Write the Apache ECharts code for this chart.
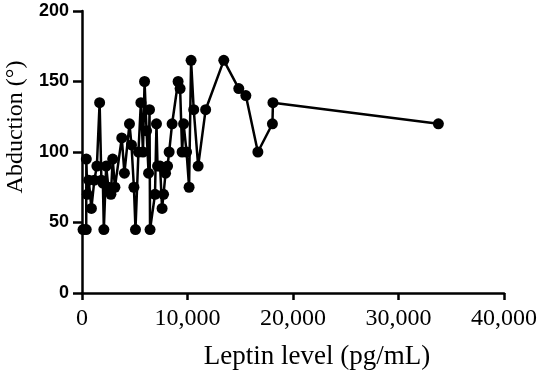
<!DOCTYPE html>
<html><head><meta charset="utf-8">
<script src="https://cdn.jsdelivr.net/npm/echarts@6/dist/echarts.min.js"></script>
<style>html,body{margin:0;padding:0;background:#fff}#c{width:550px;height:378px}</style>
</head><body><div id="c"></div>
<script>
var leptin = [100,400,410,500,640,890,1170,1410,1670,1840,1980,2070,2290,2500,2740,2910,3120,3770,4020,4500,4690,4920,5070,5350,5580,5780,5930,6120,6310,6400,6450,6920,7060,7160,7400,7590,7730,7920,8110,8260,8540,9110,9300,9490,9630,9910,10150,10340,10590,11010,11720,13440,14860,15530,16670,18050,18100,33780];
var abduction = [45,45,95,70,80,60,80,90,135,80,78,45,90,75,70,95,75,110,85,120,105,75,45,100,135,100,150,115,85,130,45,70,120,90,90,60,70,85,90,100,120,150,145,100,120,100,75,165,130,90,130,165,145,140,100,120,135,120];
var xTicks = [0,10000,20000,30000,40000];
var yTicks = [0,50,100,150,200];
var xTitle = 'Leptin level (pg/mL)';
var yTitle = 'Abduction (°)';

var pts = leptin.map(function(v,i){return [v, abduction[i]];});
var chart = echarts.init(document.getElementById('c'));
chart.setOption({
  animation:false,
  backgroundColor:'#fff',
  grid:{left:82,right:46,top:11,bottom:85,containLabel:false,outerBoundsMode:'none'},
  xAxis:{type:'value',min:xTicks[0],max:xTicks[xTicks.length-1],interval:10000,
    splitLine:{show:false},
    axisLine:{show:true,onZero:false,lineStyle:{color:'#000',width:2.5}},
    axisTick:{show:true,length:7,lineStyle:{color:'#000',width:2.5}},
    axisLabel:{color:'#000',fontFamily:'Liberation Serif',fontSize:24,margin:14,
      formatter:function(v){return v.toLocaleString('en-US');}},
    name:xTitle,nameLocation:'middle',nameGap:50,
    nameTextStyle:{color:'#000',fontFamily:'Liberation Serif',fontSize:27,padding:[0,0,0,48]}
  },
  yAxis:{type:'value',min:yTicks[0],max:yTicks[yTicks.length-1],interval:50,
    splitLine:{show:false},
    axisLine:{show:true,onZero:false,lineStyle:{color:'#000',width:2.5}},
    axisTick:{show:true,length:9,lineStyle:{color:'#000',width:2.5}},
    axisLabel:{color:'#000',fontFamily:'Liberation Sans',fontWeight:'bold',fontSize:18,margin:13},
    name:yTitle,nameLocation:'middle',nameGap:53,nameRotate:90,
    nameTextStyle:{color:'#000',fontFamily:'Liberation Serif',fontSize:24,padding:[0,0,0,50]}
  },
  series:[{type:'line',data:pts,symbol:'circle',symbolSize:11,
    lineStyle:{color:'#000',width:2.5},itemStyle:{color:'#000'},z:3}]
});
</script></body></html>
